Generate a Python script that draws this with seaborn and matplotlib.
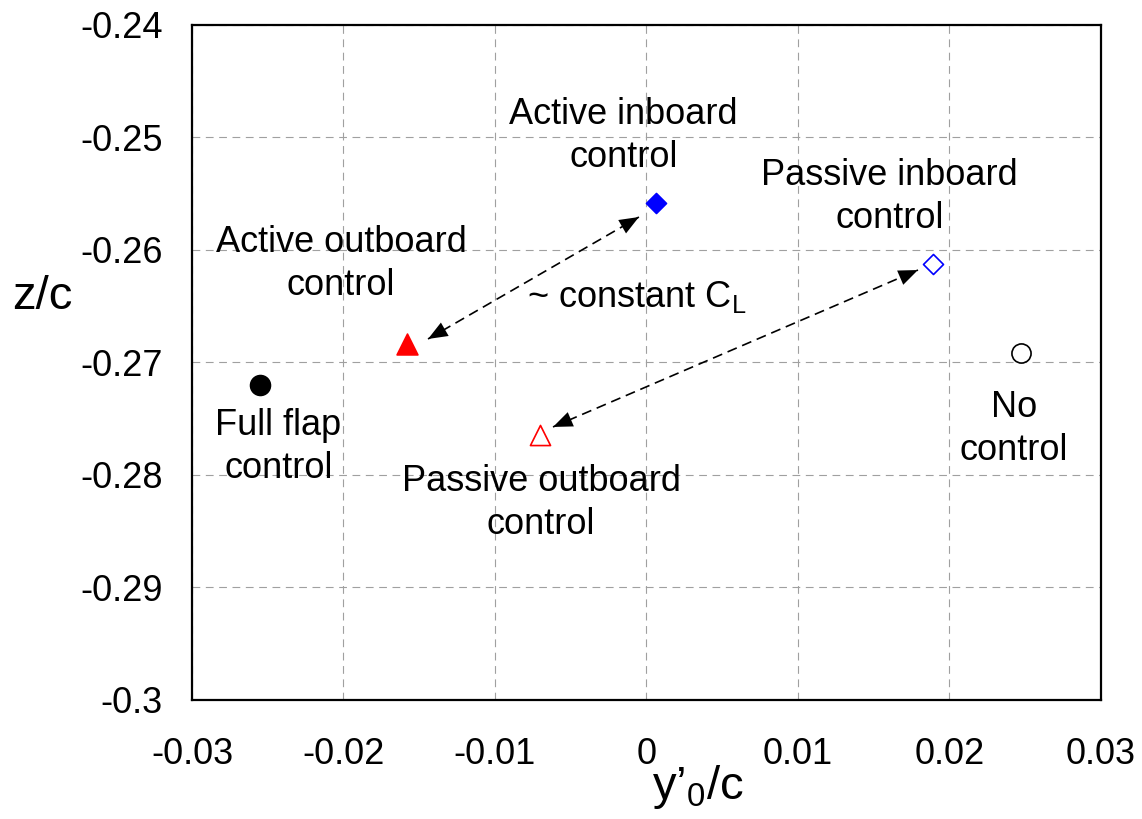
import matplotlib
matplotlib.use("Agg")
import matplotlib.pyplot as plt
import seaborn as sns

# ---- data ----
cases = ["Full flap control", "Active outboard control", "Active inboard control",
         "Passive inboard control", "Passive outboard control", "No control"]
y0_c = [-0.0255, -0.0158, 0.00063, 0.01889, -0.00703, 0.0247]
z_c = [-0.2720, -0.2684, -0.25585, -0.26124, -0.27644, -0.26918]
markers = ["o", "^", "D", "D", "^", "o"]
colors = ["black", "red", "blue", "blue", "red", "black"]
filled = [True, True, True, False, False, False]
sizes = [205, 225, 104, 104, 210, 190]

label_texts = ["Full flap\ncontrol", "Active outboard\ncontrol", "Active inboard\ncontrol",
               "Passive inboard\ncontrol", "Passive outboard\ncontrol", "No\ncontrol"]
label_x = [-0.02429, -0.02016, -0.00152, 0.01604, -0.00696, 0.02426]
# baseline of the last text line
label_y = [-0.28027, -0.26400, -0.25262, -0.25804, -0.28524, -0.27867]

# double-headed arrows (start, end)
arrow_x0 = [-0.01442, -0.00617]
arrow_y0 = [-0.26791, -0.27573]
arrow_x1 = [-0.0005, 0.01792]
arrow_y1 = [-0.25707, -0.26178]

note_text = "~ constant C$_\\mathrm{L}$"
note_x, note_y = -0.00789, -0.26507

x_ticks = [-0.03, -0.02, -0.01, 0, 0.01, 0.02, 0.03]
x_tick_labels = ["-0.03", "-0.02", "-0.01", "0", "0.01", "0.02", "0.03"]
y_ticks = [-0.3, -0.29, -0.28, -0.27, -0.26, -0.25, -0.24]
y_tick_labels = ["-0.3", "-0.29", "-0.28", "-0.27", "-0.26", "-0.25", "-0.24"]

# ---- style ----
sns.set_style("white")
plt.rcParams["font.family"] = ["Liberation Sans", "DejaVu Sans"]
plt.rcParams["mathtext.fontset"] = "custom"
plt.rcParams["mathtext.rm"] = "Liberation Sans"
plt.rcParams["mathtext.it"] = "Liberation Sans:italic"
for k in ["text.color", "axes.labelcolor", "xtick.color", "ytick.color"]:
    plt.rcParams[k] = "black"

fig = plt.figure(figsize=(11.42, 8.19), dpi=100)
ax = fig.add_axes([0.1681, 0.1453, 0.7960, 0.8242])

for i in range(len(cases)):
    fc = colors[i] if filled[i] else "white"
    sns.scatterplot(x=[y0_c[i]], y=[z_c[i]], marker=markers[i], s=sizes[i],
                    color=fc, edgecolor=colors[i], linewidth=1.2, ax=ax,
                    zorder=5, legend=False)

# arrows: dashed shaft + solid heads
for x0, y0, x1, y1 in zip(arrow_x0, arrow_y0, arrow_x1, arrow_y1):
    ax.plot([x0, x1], [y0, y1], color="black", lw=1.2,
            linestyle=(0, (6, 3.5)), zorder=4)
    for (tx, ty), (sx, sy) in (((x1, y1), (x0, y0)), ((x0, y0), (x1, y1))):
        fx = tx + (sx - tx) * 0.02
        fy = ty + (sy - ty) * 0.02
        ax.annotate("", xy=(tx, ty), xytext=(fx, fy),
                    arrowprops=dict(arrowstyle="-|>,head_length=0.45,head_width=0.18",
                                    mutation_scale=31, color="black", lw=0,
                                    shrinkA=0, shrinkB=0), zorder=4)

for t, lx, ly in zip(label_texts, label_x, label_y):
    ax.text(lx, ly, t, ha="center", va="baseline", fontsize=26,
            linespacing=1.3, zorder=6)
ax.text(note_x, note_y, note_text, ha="left", va="baseline", fontsize=26, zorder=6)

ax.set_xlim(-0.03, 0.03)
ax.set_ylim(-0.3, -0.24)
ax.set_xticks(x_ticks)
ax.set_xticklabels(x_tick_labels)
ax.set_yticks(y_ticks)
ax.set_yticklabels(y_tick_labels)
ax.tick_params(axis="both", direction="in", length=7, width=1, labelsize=26,
               color="black")
ax.tick_params(axis="x", pad=27)
ax.tick_params(axis="y", pad=21)

ax.grid(True, color="#a0a0a0", lw=0.8, linestyle=(0, (7, 5)))
ax.set_axisbelow(True)
for sp in ax.spines.values():
    sp.set_color("black")
    sp.set_linewidth(1.6)

ax.set_xlabel("y\u2019$_\\mathrm{0}$/c", fontsize=34)
ax.xaxis.set_label_coords(0.557, -0.093)
ax.set_ylabel("z/c", fontsize=34, rotation=0, ha="center", va="center")
ax.yaxis.set_label_coords(-0.165, 0.597)

fig.savefig("out.png", dpi=100)
